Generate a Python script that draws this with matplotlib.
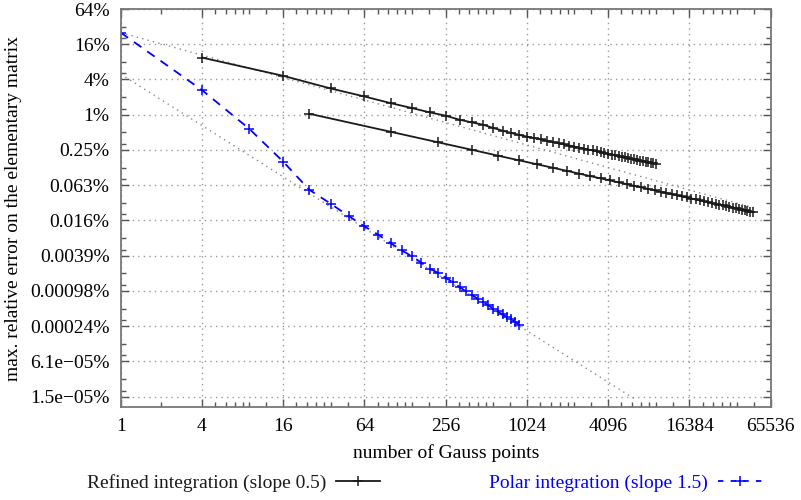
import matplotlib
matplotlib.use("Agg")
from matplotlib import pyplot as plt
from matplotlib.lines import Line2D
from matplotlib.ticker import FixedLocator, NullFormatter

# number of Gauss points and max. relative error (in %)
refined_a_pts = [4, 16, 36, 64, 100, 144, 196, 256, 324, 400, 484, 576, 676, 784, 900,
                 1024, 1156, 1296, 1444, 1600, 1764, 1936, 2116, 2304, 2500, 2704, 2916,
                 3136, 3364, 3600, 3844, 4096, 4356, 4624, 4900, 5184, 5476, 5776, 6084,
                 6400, 6724, 7056, 7396, 7744, 8100, 8464, 8836, 9216]
refined_a_err = [9.47, 4.62, 2.81, 2.05, 1.58, 1.30, 1.095, 0.963, 0.823, 0.740, 0.676,
                 0.594, 0.534, 0.488, 0.452, 0.424, 0.400, 0.378, 0.359, 0.341, 0.325,
                 0.311, 0.298, 0.285, 0.274, 0.264, 0.254, 0.246, 0.237, 0.230, 0.222,
                 0.215, 0.209, 0.203, 0.197, 0.192, 0.187, 0.182, 0.178, 0.173, 0.169,
                 0.165, 0.161, 0.158, 0.154, 0.151, 0.148, 0.145]

refined_b_pts = [25, 100, 225, 400, 625, 900, 1225, 1600, 2025, 2500, 3025, 3600, 4225,
                 4900, 5625, 6400, 7225, 8100, 9025, 10000, 11025, 12100, 13225, 14400,
                 15625, 16900, 18225, 19600, 21025, 22500, 24025, 25600, 27225, 28900,
                 30625, 32400, 34225, 36100, 38025, 40000, 42025, 44100, 46225, 48400]
refined_b_err = [1.04, 0.512, 0.338, 0.252, 0.200, 0.166, 0.142, 0.124, 0.110, 0.0986,
                 0.0894, 0.0818, 0.0754, 0.0699, 0.0651, 0.0609, 0.0573, 0.0540, 0.0511,
                 0.0485, 0.0461, 0.0440, 0.0420, 0.0402, 0.0386, 0.0371, 0.0357, 0.0344,
                 0.0332, 0.0320, 0.0310, 0.0300, 0.0291, 0.0282, 0.0274, 0.0266, 0.0259,
                 0.0252, 0.0245, 0.0239, 0.0233, 0.0227, 0.0222, 0.0217]

polar_pts = [1, 4, 9, 16, 25, 36, 49, 64, 81, 100, 121, 144, 169, 196, 225, 256, 289,
             324, 361, 400, 441, 484, 529, 576, 625, 676, 729, 784, 841, 900]
polar_err = [25.3, 2.64, 0.571, 0.158, 0.0522, 0.0302, 0.01855, 0.01237, 0.00893,
             0.00642, 0.00483, 0.00381, 0.00298, 0.00235, 0.00198, 0.00165, 0.001375,
             0.001142, 0.000966, 0.000835, 0.000725, 0.000635, 0.000558, 0.000490,
             0.000436, 0.000388, 0.000348, 0.000319, 0.000287, 0.000258]

# dotted reference lines
ref_a_pts = [1, 48400]
ref_a_err = [25.3, 0.026]
ref_b_pts = [1, 6430]
ref_b_err = [4.94, 1.4e-5]

xtick_vals = [1, 4, 16, 64, 256, 1024, 4096, 16384, 65536]
xtick_labels = ["1", "4", "16", "64", "256", "1024", "4096", "16384", "65536"]
ytick_labels = ["64%", "16%", "4%", "1%", "0.25%", "0.063%", "0.016%", "0.0039%",
                "0.00098%", "0.00024%", "6.1e\u221205%", "1.5e\u221205%"]

plt.rcParams['font.family'] = ['Liberation Serif', 'DejaVu Serif']
fs = 14

fig = plt.figure(figsize=(8.01, 5.0), dpi=100)
ax = fig.add_axes([120.7 / 801, 1 - 407.3 / 500, 650 / 801, 398.3 / 500])
ax.set_xscale('log', base=2)
ax.set_yscale('log', base=2)
ax.set_xlim(1, 65536)
ax.set_ylim(1.007e-5, 64)

ref_style = dict(color='#888888', linestyle=(0, (1, 3)), linewidth=1.0)
ax.plot(ref_a_pts, ref_a_err, **ref_style)
ax.plot(ref_b_pts, ref_b_err, **ref_style)

mk = dict(marker='+', markersize=6.5, markeredgewidth=1.1)
ax.plot(refined_a_pts, refined_a_err, color='#1a1a1a', linewidth=1.3, **mk)
ax.plot(refined_b_pts, refined_b_err, color='#1a1a1a', linewidth=1.3, **mk)
ax.plot(polar_pts, polar_err, color='#0000ff', linewidth=1.3, linestyle=(0, (5, 4)), **mk)

# ticks
ytick_vals = [64 / 4 ** k for k in range(len(ytick_labels))]
ax.yaxis.set_major_locator(FixedLocator(ytick_vals))
ax.set_yticklabels(ytick_labels)
ax.xaxis.set_major_locator(FixedLocator(xtick_vals))
ax.set_xticklabels(xtick_labels)

xminor = [2]
for k in range(1, 8):
    xminor += [4 ** k * f for f in (1.25, 1.5, 1.75, 2, 2.25, 3)]
ax.xaxis.set_minor_locator(FixedLocator(xminor))
yminor = []
for v in ytick_vals:
    yminor += [v / 4 * 1.27, v / 2]
ax.yaxis.set_minor_locator(FixedLocator(yminor))
ax.xaxis.set_minor_formatter(NullFormatter())
ax.yaxis.set_minor_formatter(NullFormatter())

ax.tick_params(which='both', direction='in', top=True, right=True,
               color='#555555', labelsize=fs, width=1.0)
ax.tick_params(which='major', length=6, pad=8)
ax.tick_params(which='minor', length=3.5)
for sp in ax.spines.values():
    sp.set_color('#777777')
    sp.set_linewidth(1.3)

ax.grid(True, which='major', color='#999999', linestyle=(0, (1, 3)), linewidth=1.0)

ax.set_xlabel('number of Gauss points', fontsize=fs, labelpad=6)
ax.set_ylabel('max. relative error on the elementary matrix', fontsize=fs, labelpad=6)

handles = [
    Line2D([], [], color='#1a1a1a', linewidth=1.3, **mk),
    Line2D([], [], color='#0000ff', linewidth=1.3, linestyle=(0, (3, 4)), **mk),
]
fig.legend(handles, ['Refined integration (slope 0.5)', 'Polar integration (slope 1.5)'],
           loc='center', bbox_to_anchor=(0.53, 0.034), ncol=2, frameon=False,
           markerfirst=False, labelcolor='linecolor', fontsize=fs,
           handlelength=2.3, columnspacing=5.6, handletextpad=0.5)

fig.savefig('out.png', dpi=100)
